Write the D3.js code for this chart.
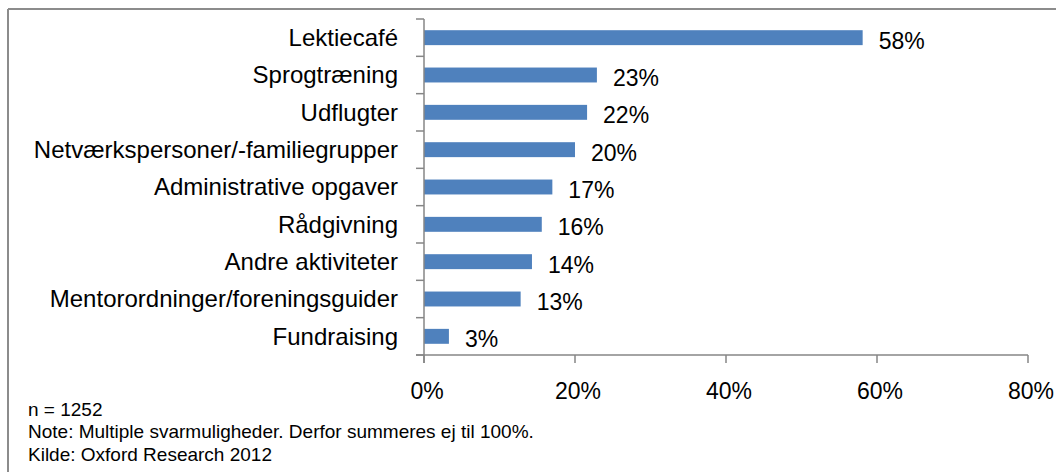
<!DOCTYPE html>
<html>
<head>
<meta charset="utf-8">
<script src="https://cdn.jsdelivr.net/npm/d3@7"></script>
<style>
  body { margin: 0; background: #fff; }
  text { font-family: "Liberation Sans", Arial, sans-serif; fill: #000; }
</style>
</head>
<body>
<div id="chart-area"></div>
<script>
const categories = [
	"Lektiecafé",
	"Sprogtræning",
	"Udflugter",
	"Netværkspersoner/-familiegrupper",
	"Administrative opgaver",
	"Rådgivning",
	"Andre aktiviteter",
	"Mentorordninger/foreningsguider",
	"Fundraising"
];
const values = [58.1, 22.9, 21.6, 20.0, 17.0, 15.6, 14.3, 12.8, 3.3];
const ticks = [0, 20, 40, 60, 80];
const notes = [
	"n = 1252",
	"Note: Multiple svarmuligheder. Derfor summeres ej til 100%.",
	"Kilde: Oxford Research 2012"
];

const W = 1056, H = 472;
const svg = d3.select("#chart-area").append("svg")
	.attr("width", W)
	.attr("height", H);

// frame (only top and left edges are visible in the source)
svg.append("line").attr("x1", 8).attr("x2", W).attr("y1", 9).attr("y2", 9)
	.attr("stroke", "#8c8c8c").attr("stroke-width", 2);
svg.append("line").attr("x1", 8).attr("x2", 8).attr("y1", 9).attr("y2", H)
	.attr("stroke", "#8c8c8c").attr("stroke-width", 2);

const x = d3.scaleLinear()
	.domain([0, 80])
	.range([424, 1028]);

const y = d3.scaleBand()
	.domain(categories)
	.range([19, 355])
	.paddingInner(0.6)
	.paddingOuter(0.3);

const rows = categories.map((c, i) => ({ name: c, value: values[i] }));

svg.selectAll(".bar")
	.data(rows)
	.enter()
	.append("rect")
	.attr("class", "bar")
	.attr("x", x(0))
	.attr("y", d => y(d.name))
	.attr("width", d => x(d.value) - x(0))
	.attr("height", y.bandwidth())
	.attr("fill", "#4f81bd");

// y axis with ticks between categories
const yAxis = svg.append("g").attr("stroke", "#868686").attr("stroke-width", 1.5);
yAxis.append("line").attr("x1", x(0)).attr("x2", x(0)).attr("y1", 19).attr("y2", 363);
d3.range(categories.length + 1).forEach(i => {
	const yy = 19 + i * (336 / categories.length);
	yAxis.append("line").attr("x1", 416).attr("x2", x(0)).attr("y1", yy).attr("y2", yy);
});

// x axis
const xAxis = svg.append("g").attr("stroke", "#868686").attr("stroke-width", 1.5);
xAxis.append("line").attr("x1", 416).attr("x2", x(80)).attr("y1", 355).attr("y2", 355);
ticks.forEach(t => {
	xAxis.append("line").attr("x1", x(t)).attr("x2", x(t)).attr("y1", 355).attr("y2", 363);
});

svg.selectAll(".tick-label")
	.data(ticks)
	.enter()
	.append("text")
	.attr("x", d => x(d) + 3)
	.attr("y", 391)
	.attr("dy", "0.35em")
	.attr("text-anchor", "middle")
	.attr("font-size", 23)
	.text(d => d + "%");

svg.selectAll(".cat-label")
	.data(rows)
	.enter()
	.append("text")
	.attr("x", 398)
	.attr("y", d => y(d.name) + y.bandwidth() / 2)
	.attr("dy", "0.35em")
	.attr("text-anchor", "end")
	.attr("font-size", 24)
	.text(d => d.name);

svg.selectAll(".val-label")
	.data(rows)
	.enter()
	.append("text")
	.attr("x", d => x(d.value) + 16)
	.attr("y", d => y(d.name) + y.bandwidth() / 2 + 3)
	.attr("dy", "0.35em")
	.attr("font-size", 23)
	.text(d => Math.round(d.value) + "%");

svg.selectAll(".note")
	.data(notes)
	.enter()
	.append("text")
	.attr("x", 28)
	.attr("y", (d, i) => 409 + i * 22.5)
	.attr("dy", "0.35em")
	.attr("font-size", 19)
	.text(d => d);
</script>
</body>
</html>
